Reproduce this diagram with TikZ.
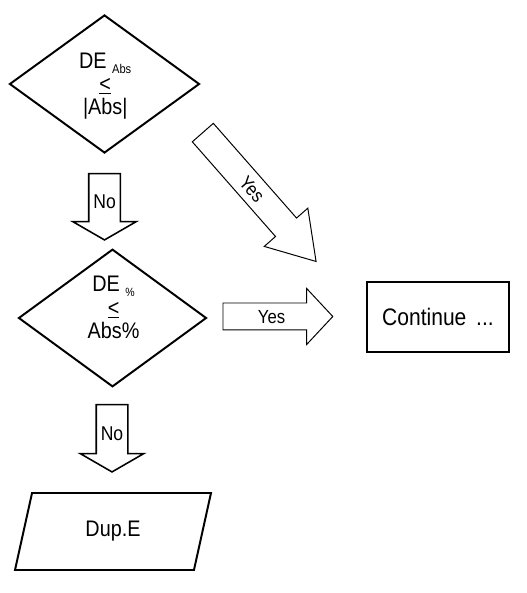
\documentclass[tikz,border=0pt]{standalone}
\usepackage{fontspec}
\setmainfont{Liberation Sans}[FakeStretch=0.88]
\usepackage{tikz}
\usetikzlibrary{positioning,calc,shapes.geometric,shapes.arrows}

\begin{document}
\begin{tikzpicture}[
	decision/.style={diamond, draw, line width=1.4pt, inner sep=0pt},
	condtext/.style={align=center, inner sep=0pt, font=\fontsize{16pt}{16.6pt}\selectfont},
	noarrow/.style={single arrow, draw, line width=1.1pt, rotate=-90, anchor=tail, inner xsep=0pt, inner ysep=0.375cm, single arrow head extend=0.4cm, single arrow tip angle=120},
	notext/.style={inner sep=0pt, font=\fontsize{14.2pt}{16pt}\selectfont},
	yesarrow/.style={single arrow, draw, line width=0.7pt, anchor=tail, inner ysep=0pt, font=\fontsize{13.5pt}{16pt}\selectfont}
	]
	
	\useasboundingbox (0,0) rectangle (13.15,14.825);
	
	% first test
	\node[decision, minimum width=4.75cm, minimum height=3.45cm] (absTest) at (2.6125,12.725) {};
	\node[condtext] (absText) at (2.63,12.675) {DE \raisebox{-0.125cm}{\fontsize{9pt}{10pt}\selectfont Abs}\\ \underline{<}\\ |Abs|};
	
	\node[noarrow, minimum height=1.66cm] (noAbs) at (2.6125,10.506) {};
	\node[notext] (noAbsText) at (2.6175,9.775) {No};
	
	\node[yesarrow, rotate=-48.7, minimum height=4.29cm, text height=0.5075cm, text depth=0.1675cm, single arrow head extend=0.375cm, single arrow tip angle=65] (yesAbs) at (5.0625,11.52) {Yes};
	
	% second test
	\node[decision, minimum width=4.7cm, minimum height=3.44cm] (pctTest) at (2.8125,6.875) {};
	\node[condtext] (pctText) at (2.84,7.135) {DE \raisebox{-0.11cm}{\fontsize{8.5pt}{9pt}\selectfont\%}\\ \underline{<}\\ Abs\%};
	
	\node[yesarrow, minimum height=2.745cm, text height=0.495cm, text depth=0.155cm, single arrow head extend=0.3625cm, single arrow tip angle=94] (yesPct) at (5.5625,6.9125) {Yes};
	
	\node[draw, line width=1.5pt, minimum width=3.55cm, minimum height=1.75cm, font=\fontsize{17pt}{20pt}\selectfont] (cont) at (10.95,6.9) {Continue\ \,...};
	
	\node[noarrow, minimum height=1.685cm] (noPct) at (2.8,4.731) {};
	\node[notext] (noPctText) at (2.8,3.975) {No};
	
	% output
	\node[trapezium, trapezium left angle=60, trapezium right angle=120, trapezium stretches body, draw, line width=1.4pt, minimum width=4.9cm, minimum height=1.925cm, font=\fontsize{16pt}{18pt}\selectfont] (dup) at (2.825,1.5375) {Dup.E};
	
\end{tikzpicture}
\end{document}
